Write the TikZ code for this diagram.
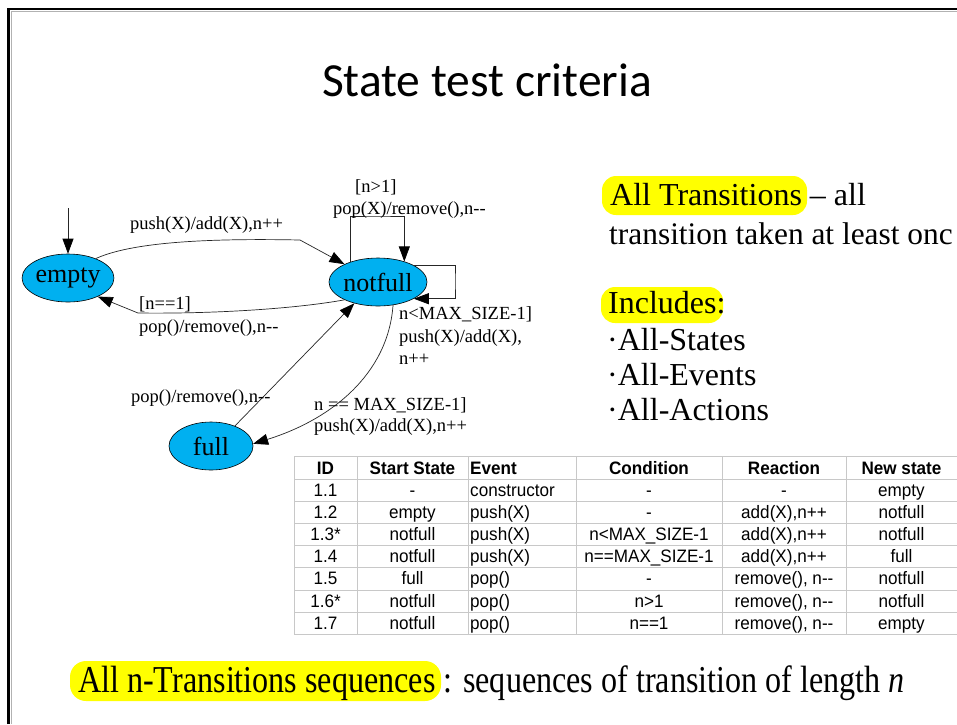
\documentclass[tikz,border=0pt]{standalone}
\usepackage{fontspec}
\setmainfont{Liberation Serif}
\newfontfamily\titlefont{Carlito}
\newfontfamily\tabfont[FakeStretch=0.95]{Liberation Sans}
\newfontfamily\narrowserif[FakeStretch=0.845]{Liberation Serif}
\usetikzlibrary{arrows.meta,shapes.geometric}
\definecolor{statecyan}{RGB}{0,176,240}
\definecolor{hlyellow}{RGB}{255,255,0}
\definecolor{gridgray}{RGB}{200,200,200}
\newcommand{\mm}{-{}-}
\newcommand{\tabrow}[8]{%
  \node[cell] (r#1a) at (325.5,#2) {#3};
  \node[cell] (r#1b) at (412.5,#2) {#4};
  \node[cell,anchor=base west] (r#1c) at (470,#2) {#5};
  \node[cell] (r#1d) at (649,#2) {#6};
  \node[cell] (r#1e) at (784,#2) {#7};
  \node[cell] (r#1f) at (901.5,#2) {#8};
}
\begin{document}
\begin{tikzpicture}[x=1pt,y=-1pt,
  state/.style={ellipse,draw=black,line width=0.6pt,fill=statecyan,minimum width=84pt,minimum height=48pt,inner sep=0pt,font=\fontsize{26}{30}\selectfont},
  trans/.style={draw=black!85,line width=0.7pt,-{Triangle[length=15pt,width=11pt,fill=black,color=black]}},
  elabel/.style={anchor=base west,inner sep=0pt,font=\fontsize{18.5}{22}\selectfont},
  hl/.style={fill=hlyellow,rounded corners=14pt},
  body/.style={anchor=base west,inner sep=0pt,font=\fontsize{32}{36}\selectfont},
  cell/.style={anchor=base,inner sep=0pt,font=\tabfont\fontsize{18}{20}\selectfont},
  hcell/.style={cell,font=\tabfont\bfseries\fontsize{18}{20}\selectfont},
  grid/.style={draw=gridgray,line width=0.8pt}
]
\useasboundingbox (0,0) rectangle (957,724);
\clip (0,0) rectangle (957,724);
\fill[white] (0,0) rectangle (957,724);

% slide border
\draw[gray!60,line width=1pt] (11,724) -- (11,11.5) -- (957,11.5);
\draw[black,line width=2.6pt] (8.5,724) -- (8.5,9) -- (957,9);

% title
\node[anchor=base,inner sep=0pt,font=\titlefont\fontsize{47.5}{54}\selectfont] (title) at (487,96) {State test criteria};

% states
\node[state] (empty) at (68,278) {empty};
\node[state] (notfull) at (378,282) {notfull};
\node[state] (full) at (211,446) {full};

% initial arrow
\coordinate (init) at (68,208);
\draw[trans] (init) -- (empty.north);

% empty -> notfull
\draw[trans] (empty.35) .. controls (130,243) and (200,238) .. (300,240) -- (notfull.152);
\node[elabel] (l1) at (130,229) {push(X)/add(X),n++};

% notfull -> empty
\draw[trans] (notfull.208) .. controls (300,308) and (220,314) .. (138,313) -- (empty.328);
\node[elabel] (l2a) at (139,309) {[n==1]};
\node[elabel] (l2b) at (139,332) {pop()/remove(),n\mm};

% self loop top
\coordinate (loopT) at (377,216);
\draw[trans] (notfull.144) |- (loopT) -| (notfull.38);
\node[elabel] (l3a) at (355,192) {[n>1]};
\node[elabel] (l3b) at (333,214) {pop(X)/remove(),n\mm};

% self loop right
\coordinate (loopR) at (455,281);
\draw[trans] (notfull.26) -| (loopR) |- (notfull.-25);
\node[elabel] (l4a) at (399,319) {n<MAX\_SIZE-1]};
\node[elabel] (l4b) at (399,342) {push(X)/add(X),};
\node[elabel] (l4c) at (399,364) {n++};

% notfull -> full
\draw[trans] (notfull.-57) .. controls (388,375) and (330,420) .. (full.3);
\node[elabel] (l5a) at (314,410) {n == MAX\_SIZE-1]};
\node[elabel] (l5b) at (314,431) {push(X)/add(X),n++};

% full -> notfull
\draw[trans] (full.40) -- (notfull.222);
\node[elabel] (l6) at (131,402) {pop()/remove(),n\mm};

% right text
\fill[hl] (602,176) rectangle (807,215);
\node[body] (t1) at (610,205) {All Transitions – all};
\node[body,font=\fontsize{31.4}{36}\selectfont] (t2) at (609,244) {transition taken at least onc};
\fill[hl] (601,287) rectangle (723,323);
\node[body] (t3) at (608,313) {Includes:};
\node[body] (t4) at (607,350) {·All-States};
\node[body] (t5) at (607,385) {·All-Events};
\node[body] (t6) at (607,420) {·All-Actions};

% table grid
\foreach \yy in {456,479,501,523,545,567,590,612,634}
  \draw[grid] (294,\yy) -- (957,\yy);
\foreach \xx in {294,357,468,576,722,846}
  \draw[grid] (\xx,456) -- (\xx,634);

% table header
\node[hcell] (h1) at (325.5,474) {ID};
\node[hcell] (h2) at (412.5,474) {Start State};
\node[hcell,anchor=base west] (h3) at (470,474) {Event};
\node[hcell] (h4) at (649,474) {Condition};
\node[hcell] (h5) at (784,474) {Reaction};
\node[hcell] (h6) at (901.5,474) {New state};

% table rows
\tabrow{1}{496}{1.1}{-}{constructor}{-}{-}{empty}
\tabrow{2}{518}{1.2}{empty}{push(X)}{-}{add(X),n++}{notfull}
\tabrow{3}{540}{1.3*}{notfull}{push(X)}{n<MAX\_SIZE-1}{add(X),n++}{notfull}
\tabrow{4}{562}{1.4}{notfull}{push(X)}{n==MAX\_SIZE-1}{add(X),n++}{full}
\tabrow{5}{584.5}{1.5}{full}{pop()}{-}{remove(), n\mm}{notfull}
\tabrow{6}{607}{1.6*}{notfull}{pop()}{n>1}{remove(), n\mm}{notfull}
\tabrow{7}{629}{1.7}{notfull}{pop()}{n==1}{remove(), n\mm}{empty}

% bottom line
\fill[hl,rounded corners=16pt] (70,661) rectangle (441,701);
\node[anchor=base west,inner sep=0pt,font=\narrowserif\fontsize{38}{44}\selectfont] (bottom) at (78,692) {All n-Transitions sequences : sequences of transition of length \textit{n}};
\end{tikzpicture}
\end{document}
